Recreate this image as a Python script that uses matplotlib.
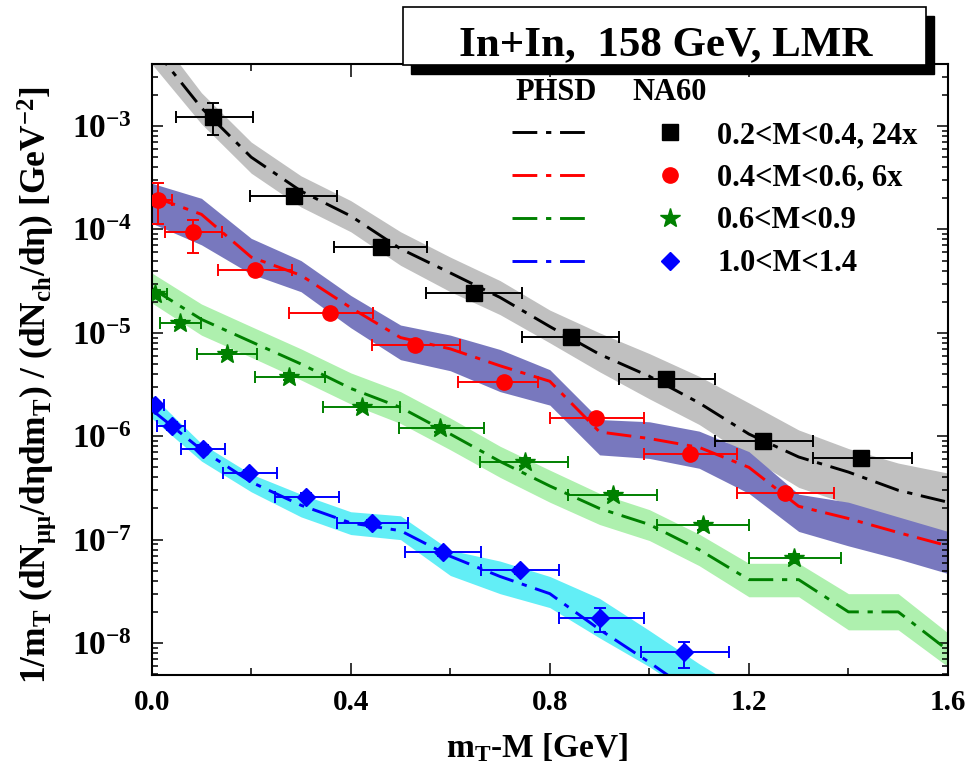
import numpy as np
import matplotlib
matplotlib.use('Agg')
import matplotlib.pyplot as plt
from matplotlib.patches import Rectangle
from matplotlib.lines import Line2D
from matplotlib.ticker import LogLocator, NullFormatter, MultipleLocator

plt.rcParams['font.family'] = ['Liberation Serif', 'DejaVu Serif']
plt.rcParams['font.weight'] = 'bold'
plt.rcParams['mathtext.fontset'] = 'custom'
plt.rcParams['mathtext.rm'] = 'Liberation Serif:bold'
plt.rcParams['mathtext.it'] = 'Liberation Serif:bold'
plt.rcParams['mathtext.bf'] = 'Liberation Serif:bold'

# PHSD grid (m_T - M in GeV)
phsd_x = [0.0, 0.1, 0.2, 0.3, 0.4, 0.5, 0.6, 0.7, 0.8, 0.9, 1.0, 1.1, 1.2, 1.3, 1.4, 1.5, 1.6]

# PHSD lines
phsd_black = [6.0e-3, 1.5e-3, 5.0e-4, 2.35e-4, 1.35e-4, 6.5e-5, 3.8e-5, 2.2e-5, 1.15e-5,
              6.2e-6, 3.8e-6, 2.1e-6, 1.05e-6, 6.3e-7, 4.5e-7, 3.0e-7, 2.3e-7]
phsd_red = [2.1e-4, 1.4e-4, 5.4e-5, 3.6e-5, 1.75e-5, 9.0e-6, 7.0e-6, 4.8e-6, 3.4e-6,
            1.1e-6, 9.5e-7, 7.8e-7, 5.0e-7, 2.1e-7, 1.6e-7, 1.17e-7, 8.7e-8]
phsd_green = [2.7e-5, 1.35e-5, 8.2e-6, 5.0e-6, 2.9e-6, 1.9e-6, 1.05e-6, 5.7e-7, 3.3e-7,
              2.0e-7, 1.4e-7, 8.0e-8, 4.1e-8, 4.1e-8, 2.0e-8, 2.0e-8, 8.5e-9]
phsd_blue = [1.8e-6, 7.4e-7, 3.6e-7, 2.15e-7, 1.45e-7, 1.22e-7, 6.9e-8, 4.4e-8, 3.0e-8,
             1.35e-8, 6.5e-9, 3.0e-9, 1.5e-9, np.nan, np.nan, np.nan, np.nan]

# PHSD uncertainty bands (upper / lower)
band_black_hi = [9.0e-3, 2.1e-3, 7.0e-4, 3.3e-4, 1.9e-4, 9.5e-5, 5.4e-5, 3.2e-5, 1.66e-5,
                 1.0e-5, 6.3e-6, 3.8e-6, 2.1e-6, 1.15e-6, 7.6e-7, 5.5e-7, 4.4e-7]
band_black_lo = [4.0e-3, 1.05e-3, 3.5e-4, 1.65e-4, 9.5e-5, 4.5e-5, 2.5e-5, 1.5e-5, 8.0e-6,
                 4.2e-6, 2.3e-6, 1.3e-6, 6.3e-7, 3.2e-7, 2.2e-7, 1.5e-7, 1.16e-7]
band_red_hi = [2.8e-4, 2.0e-4, 8.2e-5, 5.0e-5, 2.3e-5, 1.19e-5, 9.5e-6, 6.9e-6, 4.4e-6,
               1.45e-6, 1.38e-6, 1.12e-6, 7.1e-7, 2.75e-7, 2.3e-7, 1.66e-7, 1.2e-7]
band_red_lo = [1.15e-4, 7.1e-5, 3.7e-5, 2.5e-5, 1.12e-5, 5.5e-6, 4.3e-6, 2.7e-6, 2.0e-6,
               6.6e-7, 6.1e-7, 4.9e-7, 2.8e-7, 1.2e-7, 8.7e-8, 6.5e-8, 4.7e-8]
band_green_hi = [3.8e-5, 1.9e-5, 1.15e-5, 7.0e-6, 4.1e-6, 2.7e-6, 1.5e-6, 8.0e-7, 4.7e-7,
                 2.8e-7, 1.95e-7, 1.13e-7, 5.9e-8, 5.9e-8, 3.0e-8, 3.0e-8, 1.25e-8]
band_green_lo = [1.95e-5, 9.5e-6, 5.8e-6, 3.5e-6, 2.05e-6, 1.33e-6, 7.4e-7, 4.0e-7, 2.3e-7,
                 1.4e-7, 9.8e-8, 5.6e-8, 2.8e-8, 2.8e-8, 1.34e-8, 1.34e-8, 5.9e-9]
band_blue_hi = [2.5e-6, 8.5e-7, 4.3e-7, 2.75e-7, 1.86e-7, 1.7e-7, 7.9e-8, 6.2e-8, 4.4e-8,
                2.7e-8, 1.32e-8, 6.3e-9, 3.2e-9, np.nan, np.nan, np.nan, np.nan]
band_blue_lo = [1.5e-6, 5.75e-7, 2.9e-7, 1.66e-7, 1.12e-7, 1.0e-7, 4.5e-8, 3.0e-8, 2.2e-8,
                1.12e-8, 5.9e-9, 2.8e-9, 1.4e-9, np.nan, np.nan, np.nan, np.nan]

# NA60 data: 0.2<M<0.4 (x24)
na60_sq_x = [0.124, 0.285, 0.460, 0.648, 0.842, 1.034, 1.228, 1.425]
na60_sq_xlo = [0.049, 0.198, 0.367, 0.551, 0.744, 0.939, 1.131, 1.329]
na60_sq_xhi = [0.203, 0.373, 0.554, 0.745, 0.939, 1.131, 1.329, 1.528]
na60_sq_y = [1.23e-3, 2.1e-4, 6.7e-5, 2.44e-5, 9.2e-6, 3.55e-6, 9.0e-7, 6.1e-7]
na60_sq_yerr_lo = [4.1e-4, 1.5e-5, 5.0e-6, 1.8e-6, 7.0e-7, 2.6e-7, 7.0e-8, 5.0e-8]
na60_sq_yerr_hi = [4.3e-4, 1.5e-5, 5.0e-6, 1.8e-6, 7.0e-7, 2.6e-7, 7.0e-8, 5.0e-8]

# 0.4<M<0.6 (x6)
na60_ci_x = [0.013, 0.084, 0.208, 0.358, 0.529, 0.707, 0.893, 1.082, 1.273]
na60_ci_xlo = [-0.02, 0.027, 0.134, 0.275, 0.442, 0.616, 0.800, 0.990, 1.177]
na60_ci_xhi = [0.040, 0.141, 0.281, 0.445, 0.620, 0.777, 0.990, 1.177, 1.370]
na60_ci_y = [1.92e-4, 9.5e-5, 4.05e-5, 1.55e-5, 7.6e-6, 3.37e-6, 1.49e-6, 6.7e-7, 2.8e-7]
na60_ci_yerr_lo = [8.0e-5, 3.6e-5, 3.0e-6, 1.2e-6, 6.0e-7, 2.6e-7, 1.2e-7, 5.0e-8, 2.2e-8]
na60_ci_yerr_hi = [9.0e-5, 2.8e-5, 3.0e-6, 1.2e-6, 6.0e-7, 2.6e-7, 1.2e-7, 5.0e-8, 2.2e-8]

# 0.6<M<0.9
na60_st_x = [0.007, 0.057, 0.152, 0.275, 0.422, 0.580, 0.750, 0.927, 1.107, 1.291]
na60_st_xlo = [-0.02, 0.017, 0.092, 0.208, 0.345, 0.496, 0.660, 0.837, 1.016, 1.201]
na60_st_xhi = [0.030, 0.100, 0.211, 0.348, 0.499, 0.667, 0.837, 1.016, 1.201, 1.385]
na60_st_y = [2.4e-5, 1.24e-5, 6.3e-6, 3.76e-6, 1.93e-6, 1.19e-6, 5.66e-7, 2.7e-7, 1.38e-7, 6.6e-8]
na60_st_yerr = [2.0e-6, 1.0e-6, 5.0e-7, 3.0e-7, 1.5e-7, 1.0e-7, 5.0e-8, 2.5e-8, 1.3e-8, 6.0e-9]

# 1.0<M<1.4
na60_di_x = [0.007, 0.040, 0.104, 0.196, 0.311, 0.442, 0.586, 0.740, 0.901, 1.070]
na60_di_xlo = [-0.02, 0.010, 0.058, 0.143, 0.248, 0.372, 0.510, 0.661, 0.819, 0.983]
na60_di_xhi = [0.025, 0.067, 0.147, 0.252, 0.377, 0.516, 0.661, 0.819, 0.990, 1.159]
na60_di_y = [2.0e-6, 1.26e-6, 7.6e-7, 4.37e-7, 2.6e-7, 1.44e-7, 7.6e-8, 5.08e-8, 1.73e-8, 8.2e-9]
na60_di_yerr_lo = [1.5e-7, 1.0e-7, 6.0e-8, 3.5e-8, 2.0e-8, 1.2e-8, 6.0e-9, 4.0e-9, 4.4e-9, 2.5e-9]
na60_di_yerr_hi = [1.5e-7, 1.0e-7, 6.0e-8, 3.5e-8, 2.0e-8, 1.2e-8, 6.0e-9, 4.0e-9, 4.4e-9, 2.1e-9]

labels = ['0.2<M<0.4, 24x', '0.4<M<0.6, 6x', '0.6<M<0.9', '1.0<M<1.4']
ytick_vals = [1e-8, 1e-7, 1e-6, 1e-5, 1e-4, 1e-3]
ytick_labels = [r'$\mathbf{10^{-8}}$', r'$\mathbf{10^{-7}}$', r'$\mathbf{10^{-6}}$',
                r'$\mathbf{10^{-5}}$', r'$\mathbf{10^{-4}}$', r'$\mathbf{10^{-3}}$']
xtick_vals = [0.0, 0.4, 0.8, 1.2, 1.6]
xtick_labels = ['0.0', '0.4', '0.8', '1.2', '1.6']

fig = plt.figure(figsize=(9.71, 7.67), dpi=100)
ax = fig.add_axes([0.1562, 0.1199, 0.8201, 0.7966])

band_cols = ['#c0c0c0', '#7878be', '#aef0ae', '#62eef6']
line_cols = ['black', '#ff0000', '#008000', '#0000ff']
dash = (0, (8.5, 3.0, 1.8, 3.0))

bands = [(band_black_lo, band_black_hi), (band_red_lo, band_red_hi),
         (band_green_lo, band_green_hi), (band_blue_lo, band_blue_hi)]
for (lo, hi), c in zip(bands, band_cols):
    ax.fill_between(phsd_x, lo, hi, color=c, lw=0, zorder=1)

line_handles = []
for yv, c in zip([phsd_black, phsd_red, phsd_green, phsd_blue], line_cols):
    l, = ax.plot(phsd_x, yv, color=c, lw=2.1, linestyle=dash, zorder=2)
    line_handles.append(l)

def na60(x, xlo, xhi, y, ylo, yhi, marker, ms, c):
    x = np.array(x)
    xerr = [x - np.array(xlo), np.array(xhi) - x]
    ax.errorbar(x, y, xerr=xerr, yerr=[ylo, yhi], fmt='none', ecolor=c,
                elinewidth=1.4, capsize=4.5, capthick=1.4, zorder=3)
    ax.plot(x, y, linestyle='none', marker=marker, ms=ms, color=c, mec=c, zorder=4)
    return Line2D([], [], linestyle='none', marker=marker, ms=ms, color=c, mec=c)

mk_handles = [
    na60(na60_sq_x, na60_sq_xlo, na60_sq_xhi, na60_sq_y, na60_sq_yerr_lo, na60_sq_yerr_hi, 's', 11, 'black'),
    na60(na60_ci_x, na60_ci_xlo, na60_ci_xhi, na60_ci_y, na60_ci_yerr_lo, na60_ci_yerr_hi, 'o', 11, '#ff0000'),
    na60(na60_st_x, na60_st_xlo, na60_st_xhi, na60_st_y, na60_st_yerr, na60_st_yerr, '*', 15, '#008000'),
    na60(na60_di_x, na60_di_xlo, na60_di_xhi, na60_di_y, na60_di_yerr_lo, na60_di_yerr_hi, 'D', 9.5, '#0000ff'),
]

ax.set_yscale('log')
ax.set_xlim(0.0, 1.6)
ax.set_ylim(4.9e-9, 3.98e-3)

ax.set_xticks(xtick_vals)
ax.set_xticklabels(xtick_labels)
ax.xaxis.set_minor_locator(MultipleLocator(0.2))
ax.set_yticks(ytick_vals)
ax.set_yticklabels(ytick_labels)
ax.yaxis.set_minor_locator(LogLocator(base=10, subs=np.arange(2, 10)))
ax.yaxis.set_minor_formatter(NullFormatter())

ax.tick_params(which='both', direction='in', top=True, right=True, width=1.1)
ax.tick_params(axis='x', which='major', length=9, labelsize=21, pad=10)
ax.tick_params(axis='x', which='minor', length=5)
ax.tick_params(axis='y', which='major', length=8, labelsize=24, pad=14)
ax.tick_params(axis='y', which='minor', length=4.5)
for sp in ax.spines.values():
    sp.set_linewidth(1.5)

ax.set_xlabel(r'm$_{\mathbf{T}}$-M [GeV]', fontsize=24, fontweight='bold')
ax.xaxis.set_label_coords(0.484, -0.092)
ax.set_ylabel(r'1/m$_{\mathbf{T}}$ (dN$_{\mathbf{\mu\mu}}$/dηdm$_{\mathbf{T}}$) / (dN$_{\mathbf{ch}}$/dη) [GeV$^{\mathbf{-2}}$]',
              fontsize=25.5, fontweight='bold')
ax.yaxis.set_label_coords(-0.118, 0.475)

# legend: PHSD lines in first column, NA60 markers with labels in second
leg = ax.legend(line_handles + mk_handles, [''] * 4 + labels, ncol=2,
                loc='upper left', bbox_to_anchor=(512 / 971, 1 - 121 / 767),
                bbox_transform=fig.transFigure, frameon=False, fontsize=22,
                handlelength=2.6, handletextpad=0.23, columnspacing=1.05,
                labelspacing=0.45, borderpad=0, borderaxespad=0, numpoints=1)
fig.text(515 / 971, 1 - 92 / 767, 'PHSD', fontsize=22, fontweight='bold', va='center', ha='left')
fig.text(632 / 971, 1 - 92 / 767, 'NA60', fontsize=22, fontweight='bold', va='center', ha='left')

# title box with shadow
fig.patches.append(Rectangle((411 / 971, 1 - 74 / 767), 523 / 971, 58 / 767,
                             transform=fig.transFigure, facecolor='black', edgecolor='black', zorder=5))
fig.patches.append(Rectangle((403 / 971, 1 - 65 / 767), 523 / 971, 58 / 767,
                             transform=fig.transFigure, facecolor='white', edgecolor='black',
                             lw=1.2, zorder=6))
fig.text(666 / 971, 1 - 55 / 767, 'In+In,  158 GeV, LMR', fontsize=31, fontweight='bold',
         ha='center', va='baseline', zorder=7)

fig.savefig('out.png', dpi=100)
